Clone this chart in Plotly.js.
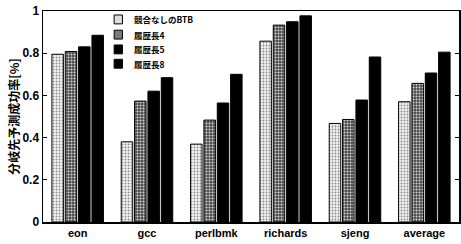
<!DOCTYPE html>
<html><head><meta charset="utf-8">
<script src="https://cdn.plot.ly/plotly-3.0.1.min.js"></script>
<style>html,body{margin:0;padding:0;background:#fff}</style>
</head><body>
<div id="chart" style="width:461px;height:244px"></div>
<script>
const categories = ["eon", "gcc", "perlbmk", "richards", "sjeng", "average"];
const seriesNames = ["競合なしのBTB", "履歴長4", "履歴長5", "履歴長8"];
const btbNoConflict = [0.795, 0.38, 0.369, 0.857, 0.467, 0.570];
const hist4 = [0.808, 0.573, 0.483, 0.933, 0.486, 0.657];
const hist5 = [0.830, 0.620, 0.564, 0.949, 0.578, 0.706];
const hist8 = [0.885, 0.684, 0.700, 0.977, 0.782, 0.805];
const yTicks = [0, 0.2, 0.4, 0.6, 0.8, 1];
const yTickText = ["0", "0.2", "0.4", "0.6", "0.8", "1"];

const values = [btbNoConflict, hist4, hist5, hist8];
const fills = [
  {color: "#eeeeee", pattern: {shape: ".", fgcolor: "#8a8a8a", bgcolor: "#f2f2f2", size: 3, solidity: 0.3}},
  {color: "#666666", pattern: {shape: ".", fgcolor: "#d8d8d8", bgcolor: "#4a4a4a", size: 3, solidity: 0.35}},
  {color: "#000000"},
  {color: "#000000"}
];
const traces = values.map((v, i) => ({
  type: "bar", x: categories, y: v, name: seriesNames[i], showlegend: false,
  marker: Object.assign({line: {color: "#000", width: 1}}, fills[i])
}));

// hand-placed legend (compact spacing like the reference)
const legX0 = 0.171, legX1 = 0.191, legTextX = 0.215;
const legY = [0.96, 0.888, 0.818, 0.75];
const swatch = ["#dddddd", "#7a7a7a", "#000000", "#000000"];
const shapes = [], annotations = [];
seriesNames.forEach((name, i) => {
  shapes.push({type: "rect", xref: "paper", yref: "paper", x0: legX0, x1: legX1,
    y0: legY[i] - 0.021, y1: legY[i] + 0.021, line: {color: "#000", width: 1}, fillcolor: swatch[i]});
  annotations.push({xref: "paper", yref: "paper", x: legTextX, y: legY[i], xanchor: "left", yanchor: "middle",
    text: name, showarrow: false,
    font: {family: "Noto Sans CJK JP, Liberation Sans, sans-serif", size: 8.5, weight: 700, color: "#000"}});
});

const layout = {
  width: 461, height: 244,
  margin: {l: 43, r: 2, t: 11, b: 22},
  paper_bgcolor: "#fff", plot_bgcolor: "#fff",
  font: {family: "Liberation Sans, Arial, Noto Sans CJK JP, sans-serif", color: "#000", size: 11, weight: 700},
  barmode: "group", bargap: 0.23, bargroupgap: 0.14,
  showlegend: false,
  shapes: shapes, annotations: annotations,
  xaxis: {type: "category", range: [-0.5, 5.5], showline: true, linecolor: "#000", linewidth: 1.5, mirror: true,
          ticks: "", tickfont: {family: "Liberation Sans, Arial, sans-serif", size: 11, weight: 700}, showgrid: false, zeroline: false},
  yaxis: {range: [0, 1], tickvals: yTicks, ticktext: yTickText, showline: true, linecolor: "#000", linewidth: 1.5, mirror: "ticks",
          ticks: "inside", ticklen: 4, tickcolor: "#000", showgrid: false, zeroline: false,
          tickfont: {family: "Liberation Sans, Arial, sans-serif", size: 12, weight: 700},
          title: {text: "分岐先予測成功率[%]", standoff: 0, font: {family: "Noto Sans CJK JP, sans-serif", size: 12, weight: 700}}}
};
Plotly.newPlot("chart", traces, layout, {staticPlot: true, displayModeBar: false});
</script>
</body></html>
